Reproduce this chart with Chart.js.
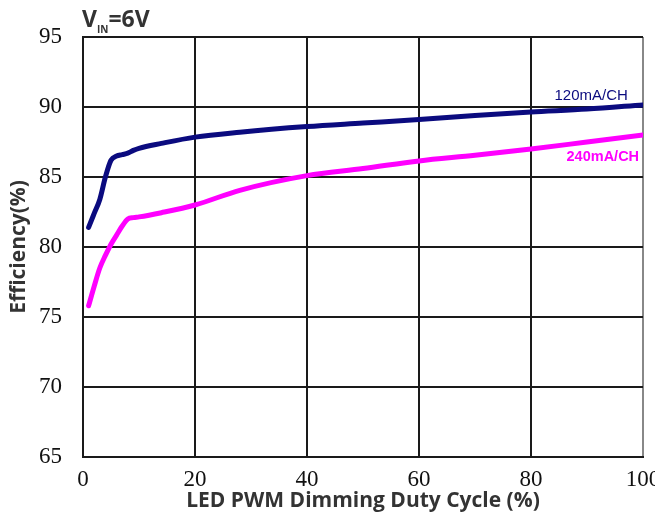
<!DOCTYPE html>
<html>
<head>
<meta charset="utf-8">
<script src="https://cdn.jsdelivr.net/npm/chart.js@4.4.1/dist/chart.umd.min.js"></script>
<style>
    html, body { margin: 0; padding: 0; background: #fff; }
    #wrap { width: 655px; height: 516px; }
</style>
</head>
<body>
<div id="wrap"><canvas id="effChart"></canvas></div>
<script>
// Duty cycle (%) sample points shared by both curves
const dutyCycle = [1, 2, 3, 4, 5, 6, 7, 8, 9, 10, 14, 20, 28, 40, 50, 60, 70, 80, 90, 100];

// Efficiency (%)
const eff120 = [81.4, 82.4, 83.4, 85.0, 86.2, 86.5, 86.6, 86.7, 86.9, 87.05, 87.4, 87.85, 88.2, 88.6, 88.85, 89.1, 89.4, 89.65, 89.85, 90.15];
const eff240 = [75.8, 77.2, 78.5, 79.4, 80.2, 80.85, 81.5, 82.0, 82.1, 82.15, 82.45, 83.0, 84.05, 85.1, 85.6, 86.15, 86.55, 87.0, 87.5, 88.0];

const seriesNames = ["120mA/CH", "240mA/CH"];
const seriesColors = ["#0b0b7f", "#ff00ff"];

// where each curve label sits, in data units (right edge x, baseline y)
const labelAt = [[97.3, 90.5], [99.3, 86.15]];

const toPoints = vals => dutyCycle.map((x, i) => ({ x: x, y: vals[i] }));

// Draws the V_IN=6V heading and the curve labels
const extraText = {
    id: "extraText",
    afterDraw(chart) {
        const ctx = chart.ctx;
        const xs = chart.scales.x;
        const ys = chart.scales.y;
        ctx.save();
        ctx.fillStyle = "#333";
        ctx.textAlign = "left";
        ctx.textBaseline = "alphabetic";
        let x = xs.left - 1;
        ctx.font = "bold 23px 'Open Sans'";
        ctx.fillText("V", x, 27);
        x += ctx.measureText("V").width;
        ctx.font = "bold 10px 'Open Sans'";
        ctx.fillText("IN", x, 33);
        x += ctx.measureText("IN").width;
        ctx.font = "bold 23px 'Open Sans'";
        ctx.fillText("=6V", x, 27);

        ctx.textAlign = "right";
        const fonts = ["15px 'Liberation Sans'", "bold 14.5px 'Liberation Sans'"];
        seriesNames.forEach((name, i) => {
            ctx.font = fonts[i];
            ctx.fillStyle = seriesColors[i];
            ctx.fillText(name, xs.getPixelForValue(labelAt[i][0]), ys.getPixelForValue(labelAt[i][1]));
        });
        ctx.restore();
    }
};

new Chart(document.getElementById("effChart"), {
    type: "line",
    data: {
        datasets: [
            {
                label: seriesNames[0],
                data: toPoints(eff120),
                borderColor: seriesColors[0],
                borderWidth: 5,
                borderCapStyle: "round",
                pointRadius: 0,
                cubicInterpolationMode: "monotone"
            },
            {
                label: seriesNames[1],
                data: toPoints(eff240),
                borderColor: seriesColors[1],
                borderWidth: 5,
                borderCapStyle: "round",
                pointRadius: 0,
                cubicInterpolationMode: "monotone"
            }
        ]
    },
    options: {
        responsive: true,
        maintainAspectRatio: false,
        animation: false,
        layout: { padding: { top: 37, right: 12, left: 0, bottom: 0 } },
        scales: {
            x: {
                type: "linear",
                min: 0,
                max: 100,
                ticks: {
                    stepSize: 20,
                    color: "#111",
                    padding: 9,
                    font: { family: "'Liberation Serif'", size: 23 }
                },
                grid: {
                    color: c => c.tick && c.tick.value === 100 ? "#888" : "#1a1a1a",
                    lineWidth: 2,
                    drawTicks: false
                },
                border: { color: "#1a1a1a", width: 2 },
                title: {
                    display: true,
                    text: "LED PWM Dimming Duty Cycle (%)",
                    color: "#333",
                    padding: { top: 0, bottom: 2 },
                    font: { family: "'Open Sans'", size: 21, weight: "bold" }
                },
                afterFit: scale => {
                    scale.height = 59;
                    scale.paddingRight = 0;
                    scale.paddingLeft = 0;
                }
            },
            y: {
                min: 65,
                max: 95,
                ticks: {
                    stepSize: 5,
                    color: "#111",
                    padding: 21,
                    font: { family: "'Liberation Serif'", size: 23 }
                },
                grid: {
                    color: "#1a1a1a",
                    lineWidth: 2,
                    drawTicks: false
                },
                border: { color: "#1a1a1a", width: 2 },
                title: {
                    display: true,
                    text: "Efficiency(%)",
                    color: "#333",
                    padding: { top: 6, bottom: 0 },
                    font: { family: "'Open Sans'", size: 21, weight: "bold" }
                },
                afterFit: scale => {
                    scale.width = 83;
                    scale.paddingTop = 0;
                    scale.paddingBottom = 0;
                }
            }
        },
        plugins: {
            legend: { display: false },
            tooltip: { enabled: false }
        }
    },
    plugins: [extraText]
});
</script>
</body>
</html>
